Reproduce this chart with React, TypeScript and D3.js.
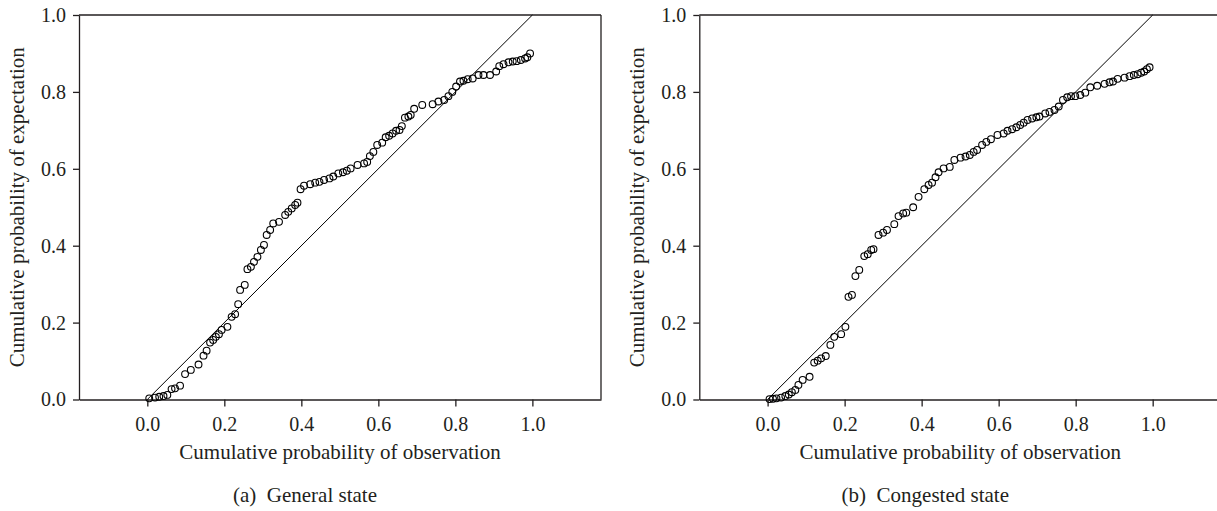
import React, { useEffect, useRef } from 'react';
import * as d3 from 'd3';

// P-P plot values
const generalObs = [
  0.005, 0.02, 0.031, 0.042, 0.052, 0.063, 0.072, 0.085, 0.098, 0.113, 0.133, 0.146, 0.154, 0.163,
  0.171, 0.178, 0.186, 0.193, 0.208, 0.219, 0.228, 0.236, 0.241, 0.253, 0.26, 0.269, 0.277, 0.286,
  0.295, 0.303, 0.31, 0.319, 0.327, 0.342, 0.358, 0.366, 0.375, 0.384, 0.39, 0.398, 0.407, 0.423,
  0.436, 0.447, 0.459, 0.473, 0.483, 0.496, 0.508, 0.518, 0.528, 0.546, 0.563, 0.571, 0.578, 0.587,
  0.597, 0.61, 0.619, 0.628, 0.637, 0.646, 0.655, 0.661, 0.669, 0.678, 0.684, 0.693, 0.714, 0.741,
  0.756, 0.771, 0.782, 0.792, 0.802, 0.812, 0.821, 0.832, 0.845, 0.86, 0.873, 0.89, 0.906, 0.914,
  0.925, 0.938, 0.949, 0.959, 0.97, 0.981, 0.987, 0.994
];
const generalExp = [
  0.003, 0.005, 0.007, 0.009, 0.012, 0.027, 0.029, 0.036, 0.066, 0.077, 0.091, 0.114, 0.127, 0.148,
  0.155, 0.163, 0.17, 0.181, 0.189, 0.215, 0.222, 0.248, 0.285, 0.298, 0.339, 0.345, 0.358, 0.371,
  0.389, 0.402, 0.428, 0.441, 0.458, 0.462, 0.48, 0.488, 0.497, 0.506, 0.512, 0.547, 0.556, 0.56,
  0.564, 0.566, 0.571, 0.575, 0.58, 0.588, 0.591, 0.595, 0.601, 0.61, 0.614, 0.618, 0.633, 0.644,
  0.662, 0.668, 0.682, 0.686, 0.692, 0.699, 0.701, 0.711, 0.733, 0.736, 0.74, 0.756, 0.766, 0.768,
  0.775, 0.779, 0.789, 0.8, 0.814, 0.827, 0.829, 0.833, 0.835, 0.844, 0.844, 0.844, 0.853, 0.867,
  0.872, 0.877, 0.879, 0.88, 0.883, 0.887, 0.89, 0.9
];

const congestedObs = [
  0.005, 0.014, 0.023, 0.035, 0.046, 0.055, 0.063, 0.072, 0.08, 0.091, 0.109, 0.121, 0.13, 0.139,
  0.151, 0.163, 0.173, 0.191, 0.202, 0.21, 0.219, 0.228, 0.238, 0.251, 0.26, 0.269, 0.275, 0.288,
  0.3, 0.31, 0.329, 0.34, 0.352, 0.36, 0.378, 0.392, 0.407, 0.418, 0.427, 0.436, 0.444, 0.457,
  0.473, 0.485, 0.501, 0.514, 0.525, 0.535, 0.544, 0.557, 0.568, 0.58, 0.597, 0.613, 0.623, 0.635,
  0.646, 0.656, 0.665, 0.675, 0.687, 0.698, 0.706, 0.721, 0.732, 0.745, 0.756, 0.767, 0.778, 0.788,
  0.799, 0.812, 0.825, 0.838, 0.856, 0.875, 0.888, 0.897, 0.909, 0.927, 0.94, 0.951, 0.961, 0.97,
  0.978, 0.985, 0.992
];
const congestedExp = [
  0.001, 0.002, 0.003, 0.005, 0.009, 0.013, 0.019, 0.025, 0.038, 0.051, 0.059, 0.096, 0.101, 0.107,
  0.113, 0.142, 0.163, 0.17, 0.189, 0.267, 0.272, 0.321, 0.337, 0.373, 0.378, 0.389, 0.391, 0.428,
  0.434, 0.441, 0.456, 0.477, 0.484, 0.486, 0.5, 0.527, 0.547, 0.558, 0.564, 0.578, 0.591, 0.601,
  0.605, 0.623, 0.629, 0.632, 0.636, 0.644, 0.649, 0.662, 0.67, 0.677, 0.688, 0.692, 0.699, 0.703,
  0.708, 0.714, 0.72, 0.727, 0.731, 0.734, 0.736, 0.744, 0.748, 0.753, 0.762, 0.779, 0.786, 0.789,
  0.789, 0.792, 0.798, 0.812, 0.816, 0.821, 0.825, 0.827, 0.834, 0.837, 0.841, 0.844, 0.846, 0.85,
  0.853, 0.859, 0.864
];

const probTicks = [0, 0.2, 0.4, 0.6, 0.8, 1.0];
const xTitle = 'Cumulative probability of observation';
const yTitle = 'Cumulative probability of expectation';
const captions = ['(a)  General state', '(b)  Congested state'];

const font = '"Liberation Serif", "Times New Roman", serif';

function drawPanel(svg, obs, exp, left, caption) {
  const width = 522;
  const top = 15;
  const bottom = 399.5;

  const x = d3.scaleLinear().domain([-0.1774, 1.1782]).range([left, left + width]);
  const y = d3.scaleLinear().domain([0, 1]).range([bottom, top]);

  const g = svg.append('g');

  // frame: top and right edges
  g.append('line')
    .attr('x1', left).attr('x2', left + width)
    .attr('y1', top).attr('y2', top)
    .attr('stroke', '#231f20').attr('stroke-width', 1.3);
  g.append('line')
    .attr('x1', left + width).attr('x2', left + width)
    .attr('y1', top).attr('y2', bottom)
    .attr('stroke', '#231f20').attr('stroke-width', 1.3);

  const yAxis = g.append('g')
    .attr('transform', `translate(${left},0)`)
    .call(d3.axisLeft(y).tickValues(probTicks).tickFormat(d3.format('.1f')).tickSize(6).tickSizeOuter(0).tickPadding(7));

  const xAxis = g.append('g')
    .attr('transform', `translate(0,${bottom})`)
    .call(d3.axisBottom(x).tickValues(probTicks).tickFormat(d3.format('.1f')).tickSize(7).tickSizeOuter(0).tickPadding(10));

  [yAxis, xAxis].forEach(a => {
    a.select('.domain').attr('stroke', '#231f20').attr('stroke-width', 1.3);
    a.selectAll('.tick line').attr('stroke', '#231f20').attr('stroke-width', 1.3);
    a.selectAll('.tick text')
      .attr('fill', '#231f20')
      .style('font-family', font)
      .style('font-size', '20px');
  });

  // reference diagonal
  g.append('line')
    .attr('x1', x(0)).attr('y1', y(0))
    .attr('x2', x(1)).attr('y2', y(1))
    .attr('stroke', '#000').attr('stroke-width', 1);

  const pts = obs.map((v, i) => ({ o: v, e: exp[i] }));
  g.append('g')
    .selectAll('circle')
    .data(pts)
    .enter().append('circle')
    .attr('cx', d => x(d.o))
    .attr('cy', d => y(d.e))
    .attr('r', 3.4)
    .attr('fill', 'none')
    .attr('stroke', '#000')
    .attr('stroke-width', 1.1);

  g.append('text')
    .attr('x', left + width / 2)
    .attr('y', 459)
    .attr('text-anchor', 'middle')
    .attr('fill', '#231f20')
    .style('font-family', font)
    .style('font-size', '21px')
    .text(xTitle);

  g.append('text')
    .attr('transform', `translate(${left - 55},${(top + bottom) / 2}) rotate(-90)`)
    .attr('text-anchor', 'middle')
    .attr('fill', '#231f20')
    .style('font-family', font)
    .style('font-size', '21px')
    .text(yTitle);

  g.append('text')
    .attr('x', left + 226)
    .attr('y', 502)
    .attr('text-anchor', 'middle')
    .attr('fill', '#231f20')
    .style('font-family', font)
    .style('font-size', '21px')
    .style('white-space', 'pre')
    .text(caption);
}

export default function App() {
  const ref = useRef(null);

  useEffect(() => {
    const svg = d3.select(ref.current);
    svg.selectAll('*').remove();
    drawPanel(svg, generalObs, generalExp, 79, captions[0]);
    drawPanel(svg, congestedObs, congestedExp, 699.3, captions[1]);
  }, []);

  return (
    <svg
      ref={ref}
      width={1217}
      height={511}
      style={{ position: 'absolute', left: 0, top: 0, background: '#fff' }}
    />
  );
}
